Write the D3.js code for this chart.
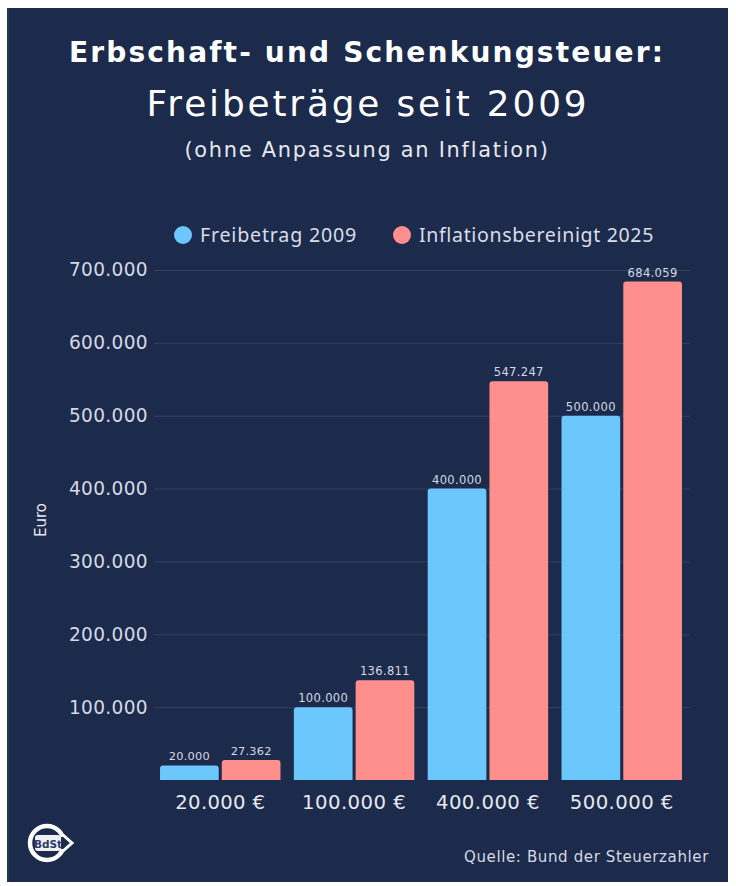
<!DOCTYPE html>
<html><head><meta charset="utf-8">
<script src="https://cdn.jsdelivr.net/npm/d3@7"></script>
<style>html,body{margin:0;padding:0;background:#fff;}svg{display:block;}</style>
</head><body>
<script>
const categories = ["20.000 €", "100.000 €", "400.000 €", "500.000 €"];
const series = ["Freibetrag 2009", "Inflationsbereinigt 2025"];
const values2009 = [20000, 100000, 400000, 500000];
const values2025 = [27362, 136811, 547247, 684059];
const yTicks = [100000, 200000, 300000, 400000, 500000, 600000, 700000];
const colors = ["#6cc7fd", "#ff8f8d"];

const W = 736, H = 886;
const svg = d3.select("body").append("svg").attr("width", W).attr("height", H);
svg.append("rect").attr("x", 7).attr("y", 8).attr("width", 721).attr("height", 874).attr("fill", "#1c2a4b");
svg.append("rect").attr("x", 7).attr("y", 8).attr("width", 2).attr("height", 874).attr("fill", "#1d3a55");

const fmt = v => d3.format(",")(v).replace(/,/g, ".");
const F = "DejaVu Sans";

// hybrid fit: grow font-size part way, then letter-spacing for the rest
function fitH(sel, target, k) {
  sel.each(function() {
    const t = d3.select(this);
    const len = this.getComputedTextLength();
    const fs = parseFloat(t.attr("font-size"));
    const f = Math.pow(target / len, k);
    t.attr("font-size", (fs * f).toFixed(2));
    const len2 = this.getComputedTextLength();
    t.attr("letter-spacing", ((target - len2) / t.text().length).toFixed(2));
  });
}

const t1 = svg.append("text").attr("x", 367).attr("y", 62).attr("text-anchor", "middle")
  .attr("font-family", F).attr("font-weight", 700).attr("font-size", 25)
  .attr("fill", "#ffffff").text("Erbschaft- und Schenkungsteuer:");
fitH(t1, 596, 0.5);
const t2 = svg.append("text").attr("x", 368).attr("y", 116).attr("text-anchor", "middle")
  .attr("font-family", F).attr("font-weight", 400).attr("font-size", 31)
  .attr("fill", "#ffffff").text("Freibeträge seit 2009");
fitH(t2, 443, 0.5);
const t3 = svg.append("text").attr("x", 367).attr("y", 157).attr("text-anchor", "middle")
  .attr("font-family", F).attr("font-weight", 400).attr("font-size", 18)
  .attr("fill", "#e6e8ee").text("(ohne Anpassung an Inflation)");
fitH(t3, 365, 0.5);

// legend
const legX = [183, 402];
const legW = [157, 235];
series.forEach((s, i) => {
  svg.append("circle").attr("cx", legX[i]).attr("cy", 235).attr("r", 9).attr("fill", colors[i]);
  const lt = svg.append("text").attr("x", legX[i] + 17).attr("y", 242)
    .attr("font-family", "Noto Sans").attr("font-size", 19).attr("fill", "#d9dde6").text(s);
  fitH(lt, legW[i], 0.3);
});

const y = d3.scaleLinear().domain([0, 700000]).range([780, 270]);
const x0 = d3.scaleBand().domain(categories).range([152, 690]).paddingInner(0.1).paddingOuter(0.06);
const x1 = d3.scaleBand().domain(series).range([0, x0.bandwidth()]).paddingInner(0.05);

// grid
const grid = svg.append("g").attr("transform", "translate(154,0)")
  .call(d3.axisLeft(y).tickValues(yTicks).tickSize(-536).tickFormat(""));
grid.select(".domain").remove();
grid.selectAll("line").attr("stroke", "#36435f").attr("stroke-width", 1);

// y labels
const ya = svg.append("g").attr("transform", "translate(148,0)")
  .call(d3.axisLeft(y).tickValues(yTicks).tickSize(0).tickPadding(0).tickFormat(fmt));
ya.select(".domain").remove();
ya.selectAll("text").attr("font-family", F).attr("font-size", 18).attr("fill", "#d5d9e3");
fitH(ya.selectAll("text").filter(function() { return d3.select(this).text().length === 7; }), 79, 0.5);

svg.append("text").attr("transform", "translate(46,520) rotate(-90)").attr("text-anchor", "middle")
  .attr("font-family", F).attr("font-size", 15).attr("fill", "#e6e8ee").text("Euro");

// bars
const data = categories.map((c, i) => ({c, vals: [values2009[i], values2025[i]]}));
const r = 3;
function topRounded(x, yy, w, h) {
  return `M${x},${yy + h}V${yy + r}Q${x},${yy} ${x + r},${yy}H${x + w - r}Q${x + w},${yy} ${x + w},${yy + r}V${yy + h}Z`;
}
const g = svg.append("g");
data.forEach(d => {
  d.vals.forEach((v, j) => {
    const bx = x0(d.c) + x1(series[j]);
    const by = y(v);
    g.append("path").attr("d", topRounded(bx, by, x1.bandwidth(), y(0) - by)).attr("fill", colors[j]);
    const vt = g.append("text").attr("x", bx + x1.bandwidth() / 2).attr("y", by - 5).attr("text-anchor", "middle")
      .attr("font-family", F).attr("font-size", 11).attr("fill", "#d5d9e3").text(fmt(v));
    fitH(vt, String(v).length === 5 ? 41 : 50, 0.5);
  });
});

// x labels
const xa = svg.append("g").attr("transform", "translate(0,780)")
  .call(d3.axisBottom(x0).tickSize(0).tickPadding(15));
xa.select(".domain").remove();
xa.selectAll("text").attr("font-family", F).attr("font-size", 19).attr("fill", "#e6e8ee");
xa.selectAll("text").each(function() {
  const t = d3.select(this);
  fitH(t, t.text().length === 8 ? 90 : 104, 0.5);
});

// logo
const logo = svg.append("g").attr("transform", "translate(47,843)");
logo.append("circle").attr("r", 17).attr("fill", "none").attr("stroke", "#ffffff").attr("stroke-width", 4.5);
logo.append("rect").attr("x", 13).attr("y", -6).attr("width", 10).attr("height", 12).attr("fill", "#1c2a4b");
logo.append("path").attr("d", "M16,-8 L25,0 L16,8").attr("fill", "none").attr("stroke", "#ffffff").attr("stroke-width", 3);
logo.append("rect").attr("x", -12).attr("y", -8).attr("width", 26).attr("height", 16).attr("rx", 3).attr("fill", "#eef0f5");
logo.append("text").attr("text-anchor", "middle").attr("y", 4.5).attr("x", 1)
  .attr("font-family", F).attr("font-weight", 700).attr("font-size", 10.5).attr("fill", "#2a3a60").text("BdSt");

const src = svg.append("text").attr("x", 709).attr("y", 862).attr("text-anchor", "end")
  .attr("font-family", F).attr("font-size", 14).attr("fill", "#d5d9e3").text("Quelle: Bund der Steuerzahler");
fitH(src, 245, 0.5);
</script>
</body></html>
